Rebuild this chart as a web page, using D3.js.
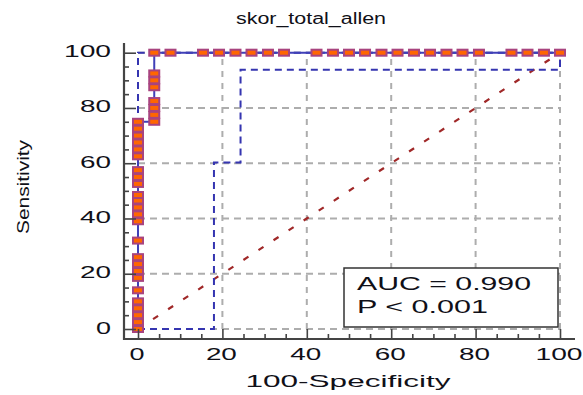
<!DOCTYPE html>
<html><head><meta charset="utf-8">
<script src="https://cdn.jsdelivr.net/npm/d3@7"></script>
<style>
html,body{margin:0;padding:0;background:#fff;}
svg{display:block;font-family:"Liberation Sans",Arial,sans-serif;}
</style>
</head><body>
<svg id="chart" width="583" height="395"></svg>
<script>
// ---- data ----
const chartTitle = "skor_total_allen";
const xTitle = "100-Specificity";
const yTitle = "Sensitivity";
const majorTicks = [0, 20, 40, 60, 80, 100];
const majorTickLabels = ["0", "20", "40", "60", "80", "100"];
const minorTicks = [5, 10, 15, 25, 30, 35, 45, 50, 55, 65, 70, 75, 85, 90, 95];
const gridX = [20, 40, 60, 80, 100];
const gridY = [0, 20, 40, 60, 80, 100];

// ROC points (100-Specificity, Sensitivity)
const rocFpr = [0,0,0,0,0,0,0,0,0,0,0,0,0,0,0,0,0,0,0,0,0,0,0,0,0,
  3.85,3.85,3.85,3.85,3.85,3.85,3.85,3.85,
  7.7,15.4,19.2,23.1,26.9,30.8,34.6,42.3,46.2,50,53.8,57.7,61.5,65.4,69.2,73.1,76.9,80.8,88.5,92.3,96.2,100];
const rocSens = [0,2.5,5,7.5,10,14,18.5,21,23.5,26,32,39,41.5,44,46.5,48.5,52.5,55,57.5,62.5,65,67.5,70,72.5,75,
  75,77.5,80,82.5,87.5,90,92.5,100,
  100,100,100,100,100,100,100,100,100,100,100,100,100,100,100,100,100,100,100,100,100,100];

// confidence bounds
const ciLowerFpr = [0, 18, 18, 24.3, 24.3, 100, 100];
const ciLowerSens = [0, 0, 60.3, 60.3, 93.8, 93.8, 100];
const ciUpperFpr = [0, 0, 100];
const ciUpperSens = [0, 100, 100];
// reference diagonal
const diagFpr = [0, 100];
const diagSens = [0, 100];

const legendLines = ["AUC = 0.990", "P < 0.001"];

// ---- drawing ----
const svg = d3.select("#chart");
const x = d3.scaleLinear().domain([0, 100]).range([138, 560]);
const y = d3.scaleLinear().domain([0, 100]).range([329, 52.7]);
const TXT = "#101018";

// gridlines
svg.append("g").selectAll("line").data(gridX).join("line")
  .attr("x1", d => x(d)).attr("x2", d => x(d))
  .attr("y1", y(0)).attr("y2", y(100))
  .attr("stroke", "#adadad").attr("stroke-width", 2).attr("stroke-dasharray", "6,6");
svg.append("g").selectAll("line").data(gridY).join("line")
  .attr("x1", x(0)).attr("x2", x(100))
  .attr("y1", d => y(d)).attr("y2", d => y(d))
  .attr("stroke", "#adadad").attr("stroke-width", 2).attr("stroke-dasharray", "7,5");

const line = d3.line().x(d => x(d[0])).y(d => y(d[1]));
const zip = (a, b) => a.map((v, i) => [v, b[i]]);

// diagonal
svg.append("path").datum(zip(diagFpr, diagSens)).attr("d", line)
  .attr("fill", "none").attr("stroke", "#a02828").attr("stroke-width", 2.2)
  .attr("stroke-dasharray", "6,12");

// CI bounds
[zip(ciLowerFpr, ciLowerSens), zip(ciUpperFpr, ciUpperSens)].forEach(pts => {
  svg.append("path").datum(pts).attr("d", line)
    .attr("fill", "none").attr("stroke", "#3535b0").attr("stroke-width", 2)
    .attr("stroke-dasharray", "7,5");
});

// ROC line
const roc = zip(rocFpr, rocSens);
svg.append("path").datum(roc).attr("d", line)
  .attr("fill", "none").attr("stroke", "#4040b8").attr("stroke-width", 2);

// markers
svg.append("g").selectAll("rect").data(roc).join("rect")
  .attr("x", d => x(d[0]) - 5).attr("y", d => y(d[1]) - 3)
  .attr("width", 10).attr("height", 6)
  .attr("fill", "#ff6600").attr("stroke", "#a8447f").attr("stroke-width", 2);

// legend box
svg.append("rect").attr("x", 344).attr("y", 268).attr("width", 214).attr("height", 59)
  .attr("fill", "#fff").attr("stroke", "#333").attr("stroke-width", 1.5);
const legendLens = [174, 131];
svg.append("g").selectAll("text").data(legendLines).join("text")
  .attr("x", 357).attr("y", (d, i) => 290 + i * 23)
  .attr("font-size", 18).attr("fill", TXT)
  .attr("textLength", (d, i) => legendLens[i]).attr("lengthAdjust", "spacingAndGlyphs")
  .text(d => d);

// axes ticks
const yMajor = d3.axisRight(y).tickValues(majorTicks).tickSize(12).tickFormat("");
const yMinor = d3.axisRight(y).tickValues(minorTicks).tickSize(5).tickFormat("");
const xMajor = d3.axisTop(x).tickValues(majorTicks).tickSize(10).tickFormat("");
const xMinor = d3.axisTop(x).tickValues(minorTicks).tickSize(5).tickFormat("");
[[yMajor, "translate(124,0)"], [yMinor, "translate(124,0)"],
 [xMajor, "translate(0,339)"], [xMinor, "translate(0,339)"]].forEach(([ax, tr]) => {
  const g = svg.append("g").attr("transform", tr).call(ax);
  g.select(".domain").remove();
  g.selectAll(".tick line").attr("stroke", "#444").attr("stroke-width", 1.6);
});
svg.append("line").attr("x1", 124).attr("x2", 124).attr("y1", 43).attr("y2", 340)
  .attr("stroke", "#444").attr("stroke-width", 2.2);
svg.append("line").attr("x1", 123).attr("x2", 575).attr("y1", 339).attr("y2", 339)
  .attr("stroke", "#444").attr("stroke-width", 2.2);

// tick labels
const lenFor = s => s.length * 16 - 1;
svg.append("g").selectAll("text").data(majorTicks).join("text")
  .attr("x", 111).attr("y", d => y(d) + 4.5)
  .attr("text-anchor", "end").attr("font-size", 17).attr("fill", TXT)
  .attr("textLength", (d, i) => lenFor(majorTickLabels[i])).attr("lengthAdjust", "spacingAndGlyphs")
  .text((d, i) => majorTickLabels[i]);
svg.append("g").selectAll("text").data(majorTicks).join("text")
  .attr("x", d => x(d) - 1).attr("y", 360)
  .attr("text-anchor", "middle").attr("font-size", 17).attr("fill", TXT)
  .attr("textLength", (d, i) => lenFor(majorTickLabels[i])).attr("lengthAdjust", "spacingAndGlyphs")
  .text((d, i) => majorTickLabels[i]);

// titles
svg.append("text").attr("x", 311).attr("y", 24).attr("text-anchor", "middle")
  .attr("font-size", 16).attr("fill", TXT)
  .attr("textLength", 150).attr("lengthAdjust", "spacingAndGlyphs").text(chartTitle);
svg.append("text").attr("x", 348).attr("y", 387).attr("text-anchor", "middle")
  .attr("font-size", 17).attr("fill", TXT)
  .attr("textLength", 205).attr("lengthAdjust", "spacingAndGlyphs").text(xTitle);
svg.append("text").attr("transform", "translate(29,187) rotate(-90)").attr("text-anchor", "middle")
  .attr("font-size", 16).attr("fill", TXT)
  .attr("textLength", 94).attr("lengthAdjust", "spacingAndGlyphs").text(yTitle);
</script>
</body></html>
